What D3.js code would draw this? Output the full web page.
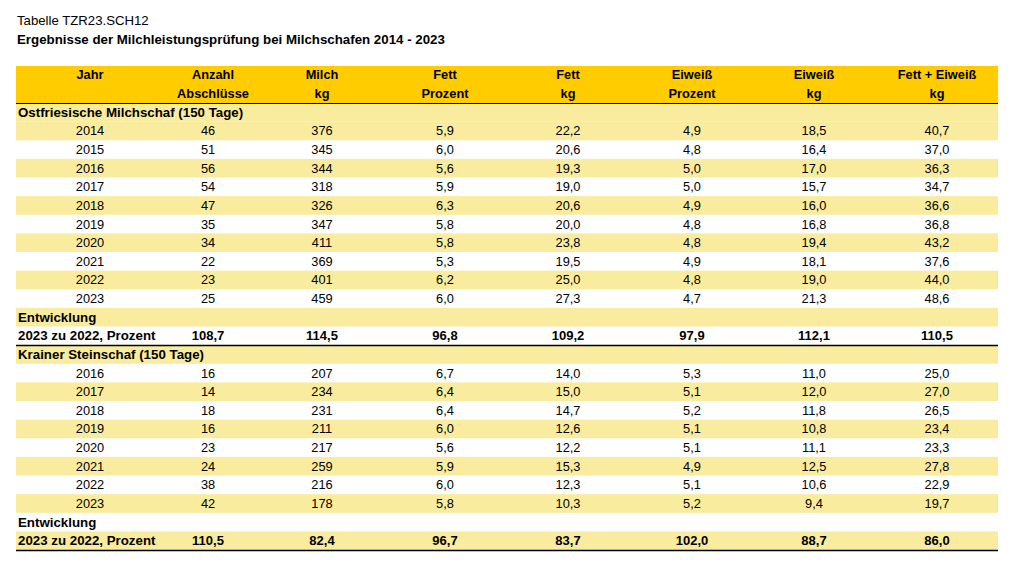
<!DOCTYPE html>
<html><head><meta charset="utf-8">
<script src="https://cdn.jsdelivr.net/npm/d3@7"></script>
<style>body{margin:0;background:#fff;} text{font-family:"Liberation Sans",Arial,sans-serif;}</style>
</head><body>
<svg id="c" width="1020" height="588"></svg>
<script>
const title1 = "Tabelle TZR23.SCH12";
const title2 = "Ergebnisse der Milchleistungsprüfung bei Milchschafen 2014 - 2023";
const headers1 = ["Jahr","Anzahl","Milch","Fett","Fett","Eiweiß","Eiweiß","Fett + Eiweiß"];
const headers2 = ["","Abschlüsse","kg","Prozent","kg","Prozent","kg","kg"];

const breed1 = "Ostfriesische Milchschaf (150 Tage)";
const years1 = [2014,2015,2016,2017,2018,2019,2020,2021,2022,2023];
const anzahl1 = [46,51,56,54,47,35,34,22,23,25];
const milch1 = [376,345,344,318,326,347,411,369,401,459];
const fettP1 = [5.9,6.0,5.6,5.9,6.3,5.8,5.8,5.3,6.2,6.0];
const fettKg1 = [22.2,20.6,19.3,19.0,20.6,20.0,23.8,19.5,25.0,27.3];
const eiwP1 = [4.9,4.8,5.0,5.0,4.9,4.8,4.8,4.9,4.8,4.7];
const eiwKg1 = [18.5,16.4,17.0,15.7,16.0,16.8,19.4,18.1,19.0,21.3];
const fe1 = [40.7,37.0,36.3,34.7,36.6,36.8,43.2,37.6,44.0,48.6];
const entw1 = [108.7,114.5,96.8,109.2,97.9,112.1,110.5];

const breed2 = "Krainer Steinschaf (150 Tage)";
const years2 = [2016,2017,2018,2019,2020,2021,2022,2023];
const anzahl2 = [16,14,18,16,23,24,38,42];
const milch2 = [207,234,231,211,217,259,216,178];
const fettP2 = [6.7,6.4,6.4,6.0,5.6,5.9,6.0,5.8];
const fettKg2 = [14.0,15.0,14.7,12.6,12.2,15.3,12.3,10.3];
const eiwP2 = [5.3,5.1,5.2,5.1,5.1,4.9,5.1,5.2];
const eiwKg2 = [11.0,12.0,11.8,10.8,11.1,12.5,10.6,9.4];
const fe2 = [25.0,27.0,26.5,23.4,23.3,27.8,22.9,19.7];
const entw2 = [110.5,82.4,96.7,83.7,102.0,88.7,86.0];

const entwLabel = "Entwicklung";
const entwRowLabel = "2023 zu 2022, Prozent";

const fmt1 = v => v.toFixed(1).replace(".", ",");
const fmt0 = v => String(v);

function section(breed, years, cols, entw){
  const rows = [{type:"label", text:breed}];
  years.forEach((y,i)=>rows.push({type:"data", cells:[String(y), fmt0(cols[0][i]), fmt0(cols[1][i]), fmt1(cols[2][i]), fmt1(cols[3][i]), fmt1(cols[4][i]), fmt1(cols[5][i]), fmt1(cols[6][i])]}));
  rows.push({type:"label", text:entwLabel});
  rows.push({type:"entw", label:entwRowLabel, cells:entw.map(fmt1), line:true});
  return rows;
}
const rows = [
  ...section(breed1, years1, [anzahl1,milch1,fettP1,fettKg1,eiwP1,eiwKg1,fe1], entw1),
  ...section(breed2, years2, [anzahl2,milch2,fettP2,fettKg2,eiwP2,eiwKg2,fe2], entw2)
];

const svg = d3.select("#c");
const left = 16, right = 998;
const headTop = 66, headBot = 103;
const rowH = 18.625;
const y = d3.scaleLinear().domain([0, rows.length]).range([headBot, headBot + rowH*rows.length]);
const colCenters = [90,208,322,445,568,692,814,937];
const cx = i => colCenters[i];

const light = "#F9EC9F", gold = "#FFCC00";

svg.append("text").attr("x",17).attr("y",25).attr("font-size","13.2px").attr("fill","#000").text(title1);
svg.append("text").attr("x",17).attr("y",44).attr("font-size","13.3px").attr("font-weight","bold").attr("fill","#000").text(title2);

svg.append("rect").attr("x",left).attr("y",headTop).attr("width",right-left).attr("height",headBot-headTop).attr("fill",gold);
const hx = [90,213,322,445,568,692,814,937];
headers1.forEach((h,i)=>svg.append("text").attr("x",hx[i]).attr("y",79).attr("text-anchor","middle").attr("font-size","12.8px").attr("font-weight","bold").text(h));
headers2.forEach((h,i)=>svg.append("text").attr("x",hx[i]).attr("y",98).attr("text-anchor","middle").attr("font-size","12.8px").attr("font-weight","bold").text(h));

const bg = svg.append("g"), fg = svg.append("g"), lines = svg.append("g");
rows.forEach((r,i)=>{
  const y0 = y(i), y1 = y(i+1);
  if(i%2===1 || i===0) bg.append("rect").attr("x",left).attr("y",y0).attr("width",right-left).attr("height",y1-y0).attr("fill",light);
  const ty = (y0+y1)/2 + 4.5;
  if(r.type==="label"){
    fg.append("text").attr("x",18).attr("y",ty).attr("font-size","13.3px").attr("font-weight","bold").text(r.text);
  } else if(r.type==="data"){
    r.cells.forEach((c,j)=>fg.append("text").attr("x",cx(j)).attr("y",ty).attr("text-anchor","middle").attr("font-size","12.8px").text(c));
  } else {
    fg.append("text").attr("x",18).attr("y",ty).attr("font-size","13.3px").attr("font-weight","bold").text(r.label);
    r.cells.forEach((c,j)=>fg.append("text").attr("x",cx(j+1)).attr("y",ty).attr("text-anchor","middle").attr("font-size","13px").attr("font-weight","bold").text(c));
  }
  if(r.line) lines.append("line").attr("x1",left).attr("x2",right).attr("y1",Math.round(y1)+0.5).attr("y2",Math.round(y1)+0.5).attr("stroke","#000").attr("stroke-width",1.3);
});
lines.append("line").attr("x1",left).attr("x2",right).attr("y1",headBot+0.5).attr("y2",headBot+0.5).attr("stroke","#000").attr("stroke-width",1);
</script>
</body></html>
